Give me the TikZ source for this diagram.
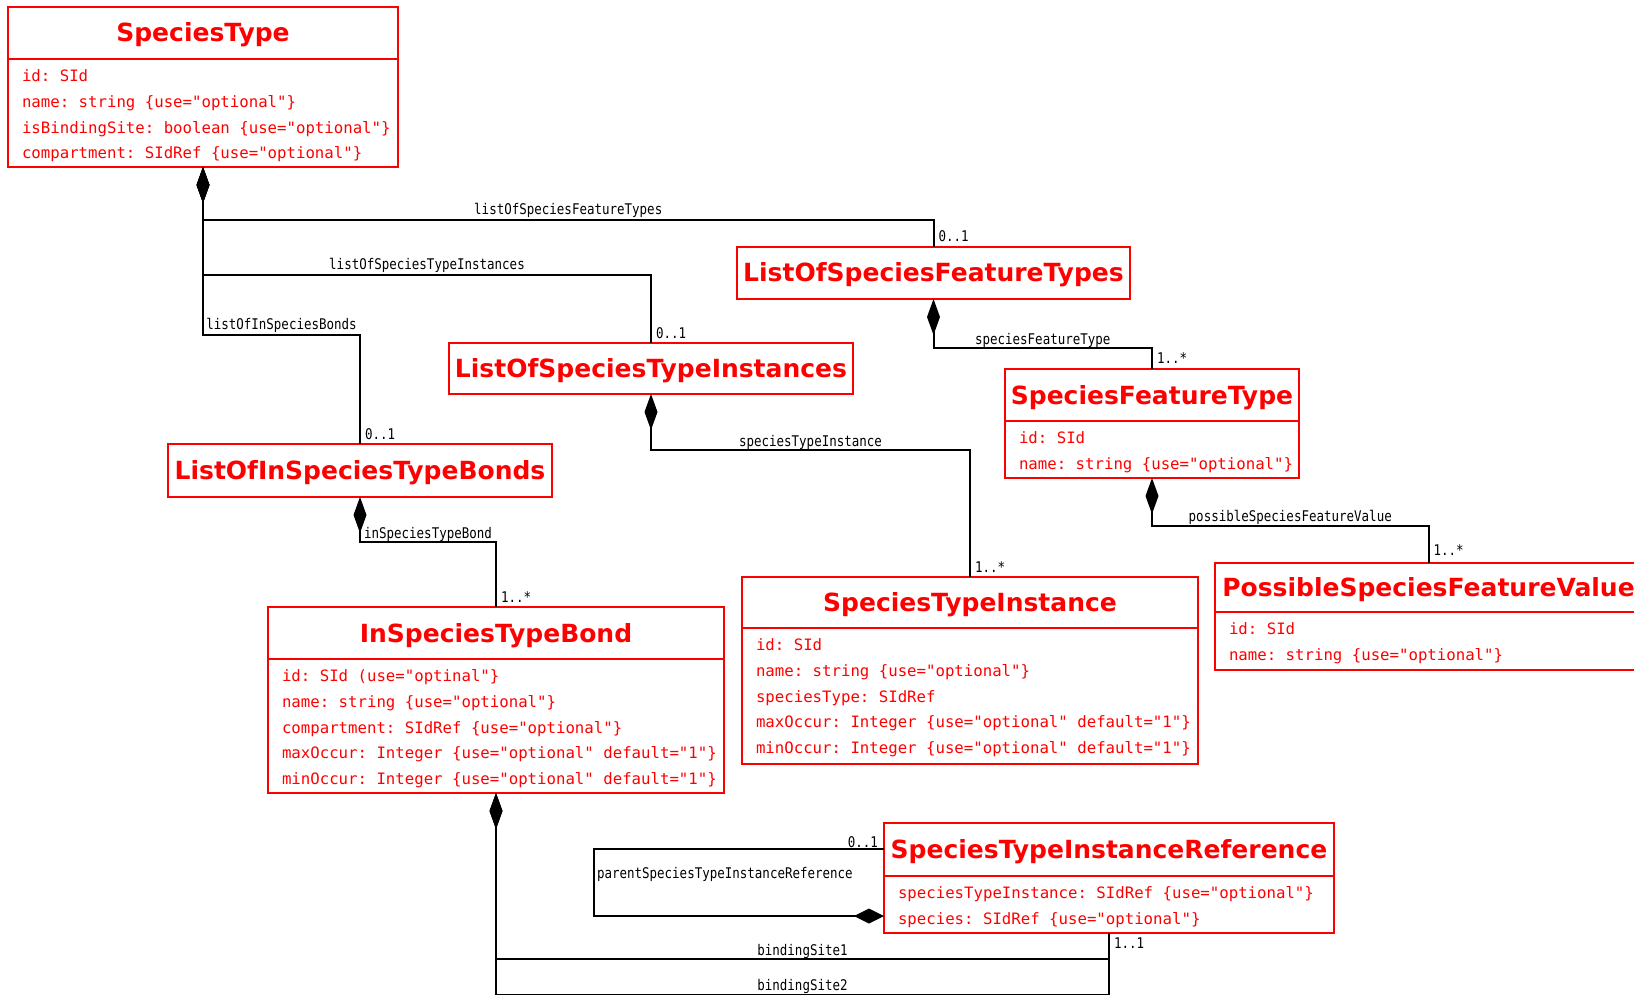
\documentclass[tikz,border=0pt]{standalone}
\usepackage{fontspec}
\setmainfont{DejaVu Sans}
\newfontfamily\titlefont{DejaVu Sans}
\newfontfamily\attrfont{DejaVu Sans Mono}
\newfontfamily\labfont{DejaVu Sans Mono}[FakeStretch=0.85]
\usetikzlibrary{arrows.meta,calc}
\newcommand\attrline[1]{\mbox{#1}}
\newcommand\msp{\hspace*{0.602em}}
\begin{document}
\begin{tikzpicture}[x=1pt,y=-1pt,
  cls/.style={draw=red, line width=2pt, rectangle, inner sep=0pt, outer sep=0pt, anchor=north west, text=red},
  ttl/.style={cls, font=\titlefont\bfseries\fontsize{25}{30}\selectfont, text height=18pt, text depth=0pt},
  atr/.style={cls, font=\attrfont\fontsize{15.7}{25.8}\selectfont, align=left, inner xsep=14pt, inner ysep=0pt, text height=22.5pt},
  conn/.style={draw=black, line width=2pt},
  comp/.style={{Diamond[length=36pt,width=13pt]}-},
  lab/.style={font=\labfont\fontsize{14.7}{16}\selectfont, inner sep=0pt, text=black}
]
\fill[white] (0,0) rectangle (1634,995);
\useasboundingbox (0,0) rectangle (1634,995);

% classes
\node[ttl, minimum width=390pt, minimum height=52pt] (st) at (8,7) {SpeciesType};
\node[atr, minimum width=390pt, text width=362pt, text depth=85.5pt] (st-a) at (st.south west)
 {\attrline{id:\msp SId}\\\attrline{name:\msp string\msp\{use="optional"\}}\\\attrline{isBindingSite:\msp boolean\msp\{use="optional"\}}\\\attrline{compartment:\msp SIdRef\msp\{use="optional"\}}};

\node[ttl, minimum width=393pt, minimum height=52pt] (lsft) at (737,247) {ListOfSpeciesFeatureTypes};
\node[ttl, minimum width=404pt, minimum height=51pt] (lsti) at (449,343) {ListOfSpeciesTypeInstances};
\node[ttl, minimum width=384pt, minimum height=53pt] (lisb) at (168,444) {ListOfInSpeciesTypeBonds};

\node[ttl, minimum width=294pt, minimum height=52pt] (sft) at (1005,369) {SpeciesFeatureType};
\node[atr, minimum width=294pt, text width=266pt, text depth=34.5pt] (sft-a) at (sft.south west)
 {\attrline{id:\msp SId}\\\attrline{name:\msp string\msp\{use="optional"\}}};

\node[ttl, minimum width=456pt, minimum height=51pt] (sti) at (742,577) {SpeciesTypeInstance};
\node[atr, minimum width=456pt, text width=428pt, text depth=113.5pt] (sti-a) at (sti.south west)
 {\attrline{id:\msp SId}\\\attrline{name:\msp string\msp\{use="optional"\}}\\\attrline{speciesType:\msp SIdRef}\\\attrline{maxOccur:\msp Integer\msp\{use="optional"\msp default="1"\}}\\\attrline{minOccur:\msp Integer\msp\{use="optional"\msp default="1"\}}};

\node[ttl, minimum width=456pt, minimum height=52pt] (isb) at (268,607) {InSpeciesTypeBond};
\node[atr, minimum width=456pt, text width=428pt, text depth=111.5pt] (isb-a) at (isb.south west)
 {\attrline{id:\msp SId\msp(use="optinal"\}}\\\attrline{name:\msp string\msp\{use="optional"\}}\\\attrline{compartment:\msp SIdRef\msp\{use="optional"\}}\\\attrline{maxOccur:\msp Integer\msp\{use="optional"\msp default="1"\}}\\\attrline{minOccur:\msp Integer\msp\{use="optional"\msp default="1"\}}};

\node[ttl, minimum width=427pt, minimum height=49pt] (psfv) at (1215,563) {PossibleSpeciesFeatureValue};
\node[atr, minimum width=427pt, text width=399pt, text depth=35.5pt] (psfv-a) at (psfv.south west)
 {\attrline{id:\msp SId}\\\attrline{name:\msp string\msp\{use="optional"\}}};

\node[ttl, minimum width=450pt, minimum height=53pt] (stir) at (884,823) {SpeciesTypeInstanceReference};
\node[atr, minimum width=450pt, text width=422pt, text depth=34.5pt] (stir-a) at (stir.south west)
 {\attrline{speciesTypeInstance:\msp SIdRef\msp\{use="optional"\}}\\\attrline{species:\msp SIdRef\msp\{use="optional"\}}};

% connectors
\draw[conn, comp] (st-a.south) -- ++(0,53) -| node[lab, pos=0.25, anchor=base, yshift=5pt] {listOfSpeciesFeatureTypes} (lsft.north)
  node[lab, anchor=base west, xshift=4pt, yshift=5pt] {0..1};
\draw[conn, comp] (st-a.south) -- ++(0,108) -| node[lab, pos=0.25, anchor=base, yshift=5pt] {listOfSpeciesTypeInstances} (lsti.north)
  node[lab, anchor=base west, xshift=4pt, yshift=5pt] {0..1};
\draw[conn, comp] (st-a.south) -- ++(0,168) -| node[lab, pos=0.25, anchor=base, yshift=5pt] {listOfInSpeciesBonds} (lisb.north)
  node[lab, anchor=base west, xshift=4pt, yshift=5pt] {0..1};

\draw[conn, comp] (lsft.south) -- ++(0,49) -| node[lab, pos=0.25, anchor=base, yshift=4pt] {speciesFeatureType} (sft.north)
  node[lab, anchor=base west, xshift=4pt, yshift=6pt] {1..*};
\draw[conn, comp] (lsti.south) -- ++(0,56) -| node[lab, pos=0.25, anchor=base, yshift=4pt] {speciesTypeInstance} (sti.north)
  node[lab, anchor=base west, xshift=4pt, yshift=5pt] {1..*};
\draw[conn, comp] (lisb.south) -- ++(0,45) -| node[lab, pos=0.25, anchor=base, yshift=4pt] {inSpeciesTypeBond} (isb.north)
  node[lab, anchor=base west, xshift=4pt, yshift=5pt] {1..*};
\draw[conn, comp] (sft-a.south) -- ++(0,48) -| node[lab, pos=0.25, anchor=base, yshift=5pt] {possibleSpeciesFeatureValue} (psfv.north)
  node[lab, anchor=base west, xshift=4pt, yshift=8pt] {1..*};

\draw[conn, comp] (isb-a.south) -- ++(0,166) -| node[lab, pos=0.25, anchor=base, yshift=4pt] {bindingSite1} (stir-a.south)
  node[lab, anchor=north west, xshift=4pt, yshift=-4pt] {1..1};
\draw[conn, comp] (isb-a.south) -- ++(0,202) -| node[lab, pos=0.25, anchor=base, yshift=5pt] {bindingSite2} (stir-a.south);

\draw[conn, {Diamond[length=30pt,width=15pt]}-] ($(stir-a.south west)+(0,-17)$) -- ++(-290,0)
  |- node[lab, pos=0.25, anchor=base west, xshift=2pt, yshift=4pt] {parentSpeciesTypeInstanceReference} ($(stir.north west)+(0,26)$)
  node[lab, anchor=base east, xshift=-5pt, yshift=2pt] {0..1};
\end{tikzpicture}
\end{document}
